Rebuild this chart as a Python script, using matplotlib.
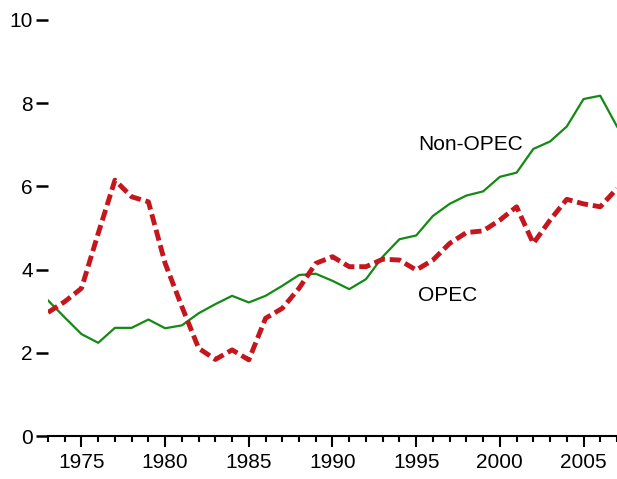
import matplotlib
matplotlib.use('Agg')
import matplotlib.pyplot as plt
from matplotlib.ticker import MultipleLocator

plt.rcParams['font.family'] = ['Liberation Sans', 'DejaVu Sans']

years = list(range(1973, 2008))

# Non-OPEC (green, solid)
non_opec = [3.26, 2.85, 2.45, 2.24, 2.60, 2.60, 2.80, 2.59, 2.66, 2.95, 3.17, 3.37,
            3.21, 3.37, 3.61, 3.87, 3.90, 3.73, 3.53, 3.77, 4.31, 4.73, 4.82, 5.29,
            5.58, 5.78, 5.88, 6.23, 6.33, 6.90, 7.08, 7.44, 8.10, 8.18, 7.44]

# OPEC (red, dashed)
opec = [2.97, 3.23, 3.55, 4.87, 6.15, 5.75, 5.63, 4.15, 3.11, 2.11, 1.84, 2.07,
        1.83, 2.83, 3.07, 3.55, 4.15, 4.31, 4.07, 4.07, 4.25, 4.23, 3.99, 4.23,
        4.63, 4.89, 4.93, 5.19, 5.51, 4.63, 5.19, 5.69, 5.58, 5.51, 5.95]

fig = plt.figure(figsize=(6.17, 4.79), dpi=100)
ax = fig.add_axes([48/617, 43/479, 569/617, 416/479])

ax.plot(years, non_opec, color='#138a13', linewidth=1.6)
ax.plot(years, opec, color='#c4161c', linewidth=3.5, dashes=(2.3, 1.0))

ax.text(1995.1, 7.0, 'Non-OPEC', fontsize=15, va='center', ha='left')
ax.text(1995.1, 3.37, 'OPEC', fontsize=15, va='center', ha='left')

ax.set_xlim(1973, 2007)
ax.set_ylim(0, 10)
ax.set_yticks([0, 2, 4, 6, 8, 10])
ax.xaxis.set_major_locator(MultipleLocator(5))
ax.xaxis.set_minor_locator(MultipleLocator(1))

for s in ['top', 'right', 'left']:
    ax.spines[s].set_visible(False)
ax.spines['bottom'].set_linewidth(1.5)

ax.tick_params(axis='y', length=9, width=1.8, pad=2, labelsize=15, direction='out')
ax.tick_params(axis='x', which='major', length=8, width=1.5, pad=4, labelsize=15, direction='out')
ax.tick_params(axis='x', which='minor', length=4.5, width=1.5, direction='out')

fig.savefig('out.png', dpi=100)
